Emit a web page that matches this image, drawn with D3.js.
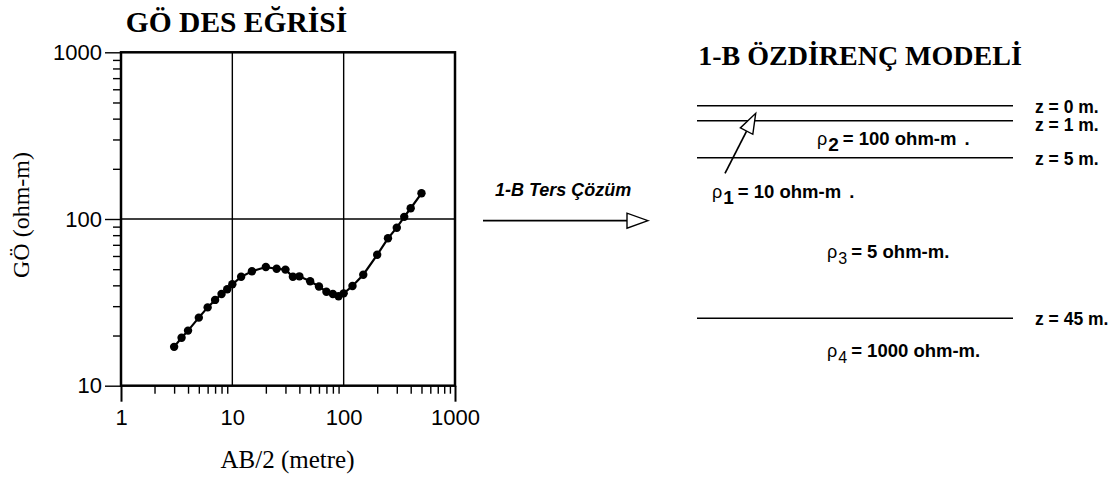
<!DOCTYPE html>
<html>
<head>
<meta charset="utf-8">
<script src="https://cdn.jsdelivr.net/npm/d3@7"></script>
<style>
  body { margin: 0; background: #fff; }
  text { fill: #000; }
</style>
</head>
<body>
<svg id="chart" width="1112" height="479"></svg>
<script>
// sounding curve: AB/2 (metre) vs apparent resistivity (ohm-m)
const abHalf = [3, 3.5, 4, 5, 6, 7, 8, 9, 10, 12, 15, 20, 25, 30, 35, 40, 50, 60, 70, 80,
  90, 100, 120, 150, 200, 250, 300, 350, 400, 500];
const rhoApp = [17.1, 19.4, 21.4, 25.6, 29.5, 32.7, 35.5, 37.9, 40.6, 45, 48.6, 51.5, 50.3, 49.7, 45, 45.3, 42.3, 39.4, 36.6, 35.5,
  34.4, 35.8, 39.6, 46.3, 61, 76.6, 88.7, 103, 116, 142.6];
const xTicks = [1, 10, 100, 1000];
const yTicks = [10, 100, 1000];

// 1-D model
const depths = [0, 1, 5, 45];
const depthLabels = ["z = 0 m.", "z = 1 m.", "z = 5 m.", "z = 45 m."];
const layerRho = [10, 100, 5, 1000];
const layerRhoText = ["= 10 ohm-m", "= 100 ohm-m", "= 5 ohm-m.", "= 1000 ohm-m."];

const svg = d3.select("#chart");
svg.append("rect").attr("width", 1112).attr("height", 479).attr("fill", "#fff");

const pLeft = 121, pRight = 455, pTop = 52.3, pBottom = 385.7;

const x = d3.scaleLog().domain([1, 1000]).range([pLeft, pRight]);
const y = d3.scaleLog().domain([10, 1000]).range([pBottom, pTop]);

// minor ticks 2..9 in each decade
const minorX = [], minorY = [];
[1, 10, 100].forEach(d => { for (let k = 2; k <= 9; k++) minorX.push(d * k); });
[10, 100].forEach(d => { for (let k = 2; k <= 9; k++) minorY.push(d * k); });

const g = svg.append("g");

// grid lines
g.selectAll(".vgrid").data([10, 100]).enter().append("line")
  .attr("x1", d => x(d)).attr("x2", d => x(d))
  .attr("y1", pTop).attr("y2", pBottom)
  .attr("stroke", "#000").attr("stroke-width", 1.4);
g.selectAll(".hgrid").data([100]).enter().append("line")
  .attr("x1", pLeft).attr("x2", pRight)
  .attr("y1", d => y(d)).attr("y2", d => y(d))
  .attr("stroke", "#000").attr("stroke-width", 1.4);

function tidy(sel, w) {
  sel.select(".domain").remove();
  sel.selectAll("line").attr("stroke-width", w);
}

// x axis
g.append("g").attr("transform", `translate(0,${pBottom})`)
  .call(d3.axisBottom(x).tickValues(minorX).tickSize(8).tickFormat(""))
  .call(s => tidy(s, 1.4));
g.append("g").attr("transform", `translate(0,${pBottom})`)
  .call(d3.axisBottom(x).tickValues([1, 1000]).tickSize(16).tickFormat(""))
  .call(s => tidy(s, 2));
g.append("g").attr("transform", `translate(0,${pBottom})`)
  .call(d3.axisBottom(x).tickValues(xTicks).tickSize(0).tickPadding(24).tickFormat(d3.format("d")))
  .call(s => tidy(s, 0))
  .selectAll("text").attr("font-family", "Liberation Sans, Arial, sans-serif").attr("font-size", 22);

// y axis
g.append("g").attr("transform", `translate(${pLeft},0)`)
  .call(d3.axisLeft(y).tickValues(minorY).tickSize(8).tickFormat(""))
  .call(s => tidy(s, 1.4));
g.append("g").attr("transform", `translate(${pLeft},0)`)
  .call(d3.axisLeft(y).tickValues(yTicks).tickSize(16).tickPadding(3).tickFormat(d3.format("d")))
  .call(s => tidy(s, 1.4))
  .selectAll("text").attr("font-family", "Liberation Sans, Arial, sans-serif").attr("font-size", 22);

// frame
g.append("rect").attr("x", pLeft).attr("y", pTop)
  .attr("width", pRight - pLeft).attr("height", pBottom - pTop)
  .attr("fill", "none").attr("stroke", "#000").attr("stroke-width", 2.5);

// curve
const pts = abHalf.map((a, i) => [a, rhoApp[i]]);
g.append("path").datum(pts)
  .attr("fill", "none").attr("stroke", "#000").attr("stroke-width", 2.2)
  .attr("d", d3.line().x(d => x(d[0])).y(d => y(d[1])));
g.selectAll(".dot").data(pts).enter().append("circle")
  .attr("cx", d => x(d[0])).attr("cy", d => y(d[1])).attr("r", 4.2).attr("fill", "#000");

// titles and axis labels
const serif = "Liberation Serif, Times New Roman, serif";
const sans = "Liberation Sans, Arial, sans-serif";
svg.append("text").attr("x", 236.5).attr("y", 31.7).attr("text-anchor", "middle")
  .attr("font-family", serif).attr("font-weight", "bold").attr("font-size", 29.5)
  .text("GÖ DES EĞRİSİ");
svg.append("text").attr("x", 287.5).attr("y", 468).attr("text-anchor", "middle")
  .attr("font-family", serif).attr("font-size", 25).text("AB/2 (metre)");
svg.append("text").attr("transform", "translate(29,215) rotate(-90)").attr("text-anchor", "middle")
  .attr("font-family", serif).attr("font-size", 24).text("GÖ (ohm-m)");

// open-headed arrow helper
function arrow(x1, y1, x2, y2, len, half) {
  const dx = x2 - x1, dy = y2 - y1, L = Math.hypot(dx, dy);
  const ux = dx / L, uy = dy / L;
  const bx = x2 - ux * len, by = y2 - uy * len;
  svg.append("line").attr("x1", x1).attr("y1", y1).attr("x2", bx).attr("y2", by)
    .attr("stroke", "#000").attr("stroke-width", 1.7);
  svg.append("path")
    .attr("d", d3.line()([[x2, y2], [bx - uy * half, by + ux * half], [bx + uy * half, by - ux * half]]) + "Z")
    .attr("fill", "#fff").attr("stroke", "#000").attr("stroke-width", 1.4);
}

// inversion arrow
svg.append("text").attr("x", 495).attr("y", 196)
  .attr("font-family", sans).attr("font-weight", "bold").attr("font-style", "italic").attr("font-size", 18)
  .text("1-B Ters Çözüm");
arrow(483, 220.7, 648, 220.7, 21, 7.5);

// model
svg.append("text").attr("x", 860).attr("y", 65).attr("text-anchor", "middle")
  .attr("font-family", serif).attr("font-weight", "bold").attr("font-size", 28)
  .text("1-B ÖZDİRENÇ MODELİ");

// schematic depth axis (not to scale)
const z = d3.scaleLinear().domain(depths).range([105.7, 120.7, 157.7, 318.3]);

svg.selectAll(".layer").data(depths).enter().append("line")
  .attr("x1", 697).attr("x2", 1013)
  .attr("y1", d => z(d)).attr("y2", d => z(d))
  .attr("stroke", "#000").attr("stroke-width", 1.5);

let prevBase = -Infinity;
depths.forEach((d, i) => {
  const base = Math.max(z(d) + 7, prevBase + 18);
  prevBase = base;
  svg.append("text").attr("x", 1035).attr("y", base)
    .attr("font-family", sans).attr("font-weight", "bold").attr("font-size", 17.5)
    .text(depthLabels[i]);
});

// layer labels (annotation anchors)
const rhoPos = [[712, 198], [817, 145], [827, 258], [827, 357]];
layerRho.forEach((r, i) => {
  const t = svg.append("text").attr("x", rhoPos[i][0]).attr("y", rhoPos[i][1])
    .attr("font-family", sans).attr("font-size", 18.5);
  t.append("tspan").attr("font-size", 18).text("ρ");
  t.append("tspan").attr("dy", 6).attr("dx", 1)
    .attr("font-weight", i < 2 ? "bold" : "normal").attr("font-size", i < 2 ? 19 : 16)
    .text(i + 1);
  t.append("tspan").attr("dy", -6).attr("dx", 4).attr("font-weight", "bold")
    .text(layerRhoText[i]);
  if (i < 2) t.append("tspan").attr("dx", 8).attr("font-weight", "bold").text(".");
});
arrow(725, 173.3, 755.7, 113.3, 20, 7);
</script>
</body>
</html>
